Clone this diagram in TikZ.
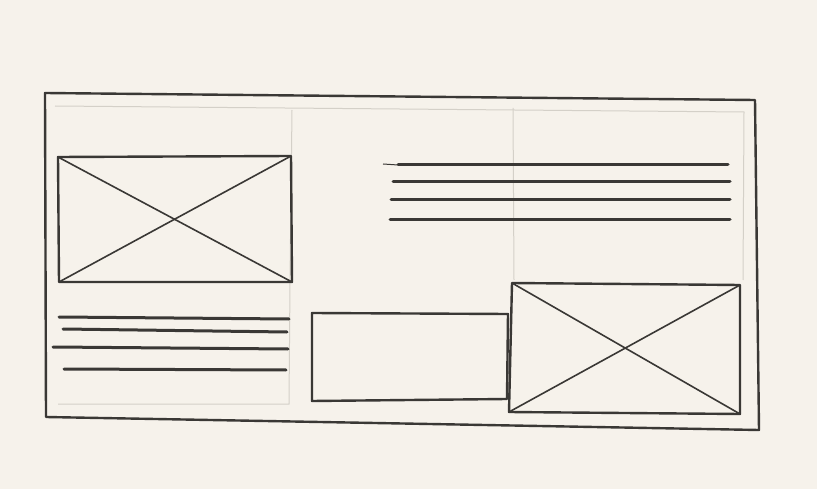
\documentclass[tikz,border=0pt]{standalone}
\definecolor{paper}{HTML}{F6F2EB}
\definecolor{ink}{HTML}{3A3835}
\definecolor{pencil}{HTML}{D4D0C8}
\begin{document}
\begin{tikzpicture}[x=1pt,y=-1pt,
  pen/.style={draw=ink,line width=2.4pt,line join=round,line cap=round},
  thin/.style={draw=ink,line width=1.6pt,line join=round,line cap=round},
  faint/.style={draw=pencil,line width=1pt},
  bar/.style={draw=ink,line width=3pt,line cap=round}]
\fill[paper] (0,0) rectangle (817,489);
\useasboundingbox (0,0) rectangle (817,489);
% faint pencil guides
\coordinate (g1) at (55,106); \coordinate (g2) at (744,112);
\coordinate (g3) at (743,280); \coordinate (g4) at (58,404);
\coordinate (g5) at (289,404); \coordinate (g6) at (290,282);
\coordinate (g7) at (292,110); \coordinate (g8) at (513,108);
\coordinate (g9) at (514,280);
\draw[faint] (g1) -- (g2) -- (g3);
\draw[faint] (g4) -- (g5) -- (g6);
\draw[faint] (g7) -- (g6);
\draw[faint] (g8) -- (g9);
% outer frame
\coordinate (o1) at (45,93); \coordinate (o2) at (755,100);
\coordinate (o3) at (759,430); \coordinate (o4) at (46,417);
\draw[pen] (o1) -- (o2) -- (o3) -- (o4) -- cycle;
% left image box
\coordinate (a1) at (58,157); \coordinate (a2) at (291,156);
\coordinate (a3) at (292,282); \coordinate (a4) at (59,282);
\draw[pen] (a1) -- (a2) -- (a3) -- (a4) -- cycle;
\draw[thin] (a1) -- (a3);
\draw[thin] (a2) -- (a4);
% right text lines
\coordinate (t0) at (383,164);
\coordinate (t1a) at (398,165); \coordinate (t1b) at (728,165);
\coordinate (t2a) at (393,182); \coordinate (t2b) at (730,182);
\coordinate (t3a) at (391,200); \coordinate (t3b) at (730,200);
\coordinate (t4a) at (390,220); \coordinate (t4b) at (730,220);
\draw[draw=ink,line width=1pt] (t0) -- (t1a);
\draw[bar] (t1a) -- (t1b);
\draw[bar] (t2a) -- (t2b);
\draw[bar] (t3a) -- (t3b);
\draw[bar] (t4a) -- (t4b);
% left text lines
\coordinate (l1a) at (59,317); \coordinate (l1b) at (289,319);
\coordinate (l2a) at (63,329); \coordinate (l2b) at (287,332);
\coordinate (l3a) at (53,347); \coordinate (l3b) at (288,349);
\coordinate (l4a) at (64,369); \coordinate (l4b) at (286,370);
\draw[bar] (l1a) -- (l1b);
\draw[bar] (l2a) -- (l2b);
\draw[bar] (l3a) -- (l3b);
\draw[bar] (l4a) -- (l4b);
% middle box
\coordinate (m1) at (312,313); \coordinate (m2) at (508,314);
\coordinate (m3) at (507,399); \coordinate (m4) at (312,401);
\draw[pen] (m1) -- (m2) -- (m3) -- (m4) -- cycle;
% right image box
\coordinate (b1) at (512,283); \coordinate (b2) at (740,285);
\coordinate (b3) at (740,414); \coordinate (b4) at (509,412);
\draw[pen] (b1) -- (b2) -- (b3) -- (b4) -- cycle;
\draw[thin] (b1) -- (b3);
\draw[thin] (b2) -- (b4);
\end{tikzpicture}
\end{document}
